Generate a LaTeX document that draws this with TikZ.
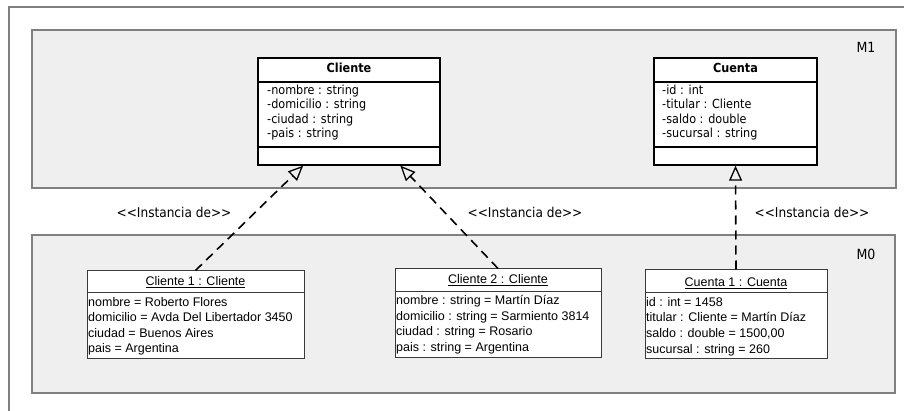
\documentclass[tikz,border=0pt]{standalone}
\usepackage{fontspec}
\setmainfont{DejaVu Sans Condensed}
\newfontfamily\ari{Liberation Sans}
\usetikzlibrary{arrows.meta,calc}
\definecolor{panelfill}{HTML}{EFEFEF}
\definecolor{framegray}{HTML}{808080}
\definecolor{objline}{HTML}{3A3A3A}
\tikzset{
  panel/.style={draw=framegray, line width=2pt, fill=panelfill, inner sep=0pt},
  classbox/.style={draw=black, line width=1.4pt, fill=white, inner sep=0pt},
  objbox/.style={draw=objline, line width=1pt, fill=white, inner sep=0pt},
  clsattr/.style={anchor=base west, inner sep=0pt, font=\fontsize{12.5}{14}\selectfont},
  clstitle/.style={anchor=base, inner sep=0pt, font=\bfseries\fontsize{12.5}{14}\selectfont},
  objattr/.style={anchor=base west, inner sep=0pt, font=\ari\fontsize{12.5}{15}\selectfont},
  objtitle/.style={anchor=base, inner sep=0pt, font=\ari\fontsize{12.5}{15}\selectfont},
  lvl/.style={inner sep=0pt, font=\fontsize{14}{16}\selectfont},
  instlabel/.style={inner sep=0pt, font=\fontsize{13.5}{15}\selectfont},
  inst/.style={line width=1.6pt, dash pattern=on 9pt off 6pt,
    -{Triangle[open, length=15pt, width=13pt, line width=1.3pt]}},
}
\begin{document}
\begin{tikzpicture}[x=1pt,y=-1pt]
\useasboundingbox (0,0) rectangle (904,411);
\fill[white] (0,0) rectangle (904,411);
\draw[framegray, line width=2pt] (9,7) rectangle (930,440);

% panels
\node[panel, minimum width=864pt, minimum height=158pt] (m1) at (464,109) {};
\node[panel, minimum width=863pt, minimum height=158pt] (m0) at (463.5,314) {};
\node[lvl] (m1lab) at (866,47) {M1};
\node[lvl] (m0lab) at (866,254) {M0};

% class Cliente
\node[classbox, minimum width=182pt, minimum height=107pt] (cliente) at (349,111.5) {};
\draw[line width=1.4pt] (cliente.west |- 0,82) -- (cliente.east |- 0,82);
\draw[line width=1.4pt] (cliente.west |- 0,147) -- (cliente.east |- 0,147);
\node[clstitle] (clienteT) at (349,73) {Cliente};
\foreach \t [count=\i] in {{-nombre : string},{-domicilio : string},{-ciudad : string},{-pais : string}}
  \node[clsattr] (clienteA\i) at (267,94.5+14.5*\i-14.5) {\t};

% class Cuenta
\node[classbox, minimum width=163pt, minimum height=107pt] (cuenta) at (735.5,111.5) {};
\draw[line width=1.4pt] (cuenta.west |- 0,82) -- (cuenta.east |- 0,82);
\draw[line width=1.4pt] (cuenta.west |- 0,147) -- (cuenta.east |- 0,147);
\node[clstitle] (cuentaT) at (735.5,73) {Cuenta};
\foreach \t [count=\i] in {{-id : int},{-titular : Cliente},{-saldo : double},{-sucursal : string}}
  \node[clsattr] (cuentaA\i) at (662,94.5+14.5*\i-14.5) {\t};

% object Cliente 1
\node[objbox, minimum width=217pt, minimum height=87pt] (c1) at (195.5,314.5) {};
\draw[objline, line width=1pt] (c1.west |- 0,293) -- (c1.east |- 0,293);
\node[objtitle] (c1T) at (195.5,286) {\underline{Cliente 1 : Cliente}};
\foreach \t [count=\i] in {{nombre = Roberto Flores},{domicilio = Avda Del Libertador 3450},{ciudad = Buenos Aires},{pais = Argentina}}
  \node[objattr] (c1A\i) at (88,306+15.5*\i-15.5) {\t};

% object Cliente 2
\node[objbox, minimum width=206pt, minimum height=88pt] (c2) at (498,313) {};
\draw[objline, line width=1pt] (c2.west |- 0,292) -- (c2.east |- 0,292);
\node[objtitle] (c2T) at (498,284) {\underline{Cliente 2 : Cliente}};
\foreach \t [count=\i] in {{nombre : string = Martín Díaz},{domicilio : string = Sarmiento 3814},{ciudad : string = Rosario},{pais : string = Argentina}}
  \node[objattr] (c2A\i) at (396,304.5+15.5*\i-15.5) {\t};

% object Cuenta 1
\node[objbox, minimum width=182pt, minimum height=88pt] (q1) at (736,314) {};
\draw[objline, line width=1pt] (q1.west |- 0,293) -- (q1.east |- 0,293);
\node[objtitle] (q1T) at (736,286.5) {\underline{Cuenta 1 : Cuenta}};
\foreach \t [count=\i] in {{id : int = 1458},{titular : Cliente = Martín Díaz},{saldo : double = 1500,00},{sucursal : string = 260}}
  \node[objattr] (q1A\i) at (646,306.5+15.5*\i-15.5) {\t};

% instance-of connectors
\coordinate (t1) at ($(cliente.south west)!0.25!(cliente.south east)$);
\coordinate (t2) at ($(cliente.south west)!0.78!(cliente.south east)$);
\draw[inst] (c1.north) -- (t1);
\draw[inst] (c2.north) -- (t2);
\draw[inst] (q1.north) -- (cuenta.south);

% labels
\node[instlabel] (l1) at (174,212) {<{}<Instancia de>{}>};
\node[instlabel] (l2) at (525,212) {<{}<Instancia de>{}>};
\node[instlabel] (l3) at (812,212) {<{}<Instancia de>{}>};
\end{tikzpicture}
\end{document}
